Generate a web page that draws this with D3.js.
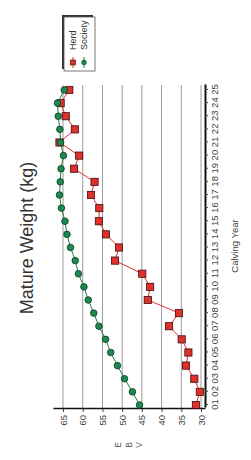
<!DOCTYPE html>
<html>
<head>
<meta charset="utf-8">
<script src="https://cdn.jsdelivr.net/npm/d3@7"></script>
<style>
  body { margin: 0; background: #fff; }
  svg { display: block; font-family: "Liberation Sans", Arial, sans-serif; }
</style>
</head>
<body>
<svg id="chart" width="251" height="460"></svg>
<script>
const years = d3.range(1, 26)
const herd = [31.3, 30.3, 31.7, 33.8, 33.2, 34.9, 38.1, 35.6, 43.5, 42.9, 44.9, 51.8, 50.8,
  54.1, 55.9, 55.8, 57.9, 57.0, 62.2, 60.9, 65.9, 62.0, 64.3, 65.6, 63.4]
const society = [45.6, 47.4, 49.4, 51.2, 52.9, 54.2, 55.9, 57.2, 58.6, 59.7, 61.1, 61.9, 63.1,
  64.0, 64.5, 65.4, 65.9, 65.7, 65.5, 64.9, 65.6, 65.8, 66.2, 66.4, 64.7]
const valueTicks = [30, 35, 40, 45, 50, 55, 60, 65]
const seriesNames = ['Herd', 'Society']

const herdColor = '#e0302c'
const societyColor = '#1b8a4f'

// the chart is drawn upright (460 x 251) and turned a quarter left
const svg = d3.select('#chart')
const g = svg.append('g').attr('transform', 'translate(0,460) rotate(-90)')

const x = d3.scaleLinear().domain([0.77, 25.38]).range([52, 375])
const y = d3.scaleLinear().domain([28.99, 67.54]).range([205, 53])

// Grid lines
g.append('g')
  .selectAll('line')
  .data(valueTicks)
  .join('line')
  .attr('x1', 52)
  .attr('x2', 375)
  .attr('y1', (d) => y(d))
  .attr('y2', (d) => y(d))
  .attr('stroke', '#9a9a9a')
  .attr('stroke-width', 1)

// Year axis
const xAxis = g.append('g')
  .attr('transform', 'translate(0,205)')
  .call(d3.axisBottom(x).tickValues(years).tickFormat(d3.format('02d')).tickSize(3).tickSizeOuter(0))
xAxis.select('.domain').attr('stroke', '#111').attr('stroke-width', 2)
xAxis.selectAll('.tick line').attr('stroke', '#444')
xAxis.selectAll('.tick text').attr('fill', '#444').style('font-size', '9.5px')

// Value axis
const yAxis = g.append('g')
  .attr('transform', 'translate(51,0)')
  .call(d3.axisLeft(y).tickValues(valueTicks).tickSize(3).tickSizeOuter(0))
yAxis.select('.domain').attr('stroke', '#111').attr('stroke-width', 1.5)
yAxis.selectAll('.tick line').attr('stroke', '#444')
yAxis.selectAll('.tick text').attr('fill', '#444').style('font-size', '9.5px')

// Axis titles
g.append('text')
  .attr('x', 222)
  .attr('y', 33)
  .attr('text-anchor', 'middle')
  .style('font-size', '18px')
  .attr('fill', '#333')
  .text('Mature Weight (kg)')

g.append('text')
  .attr('x', 214)
  .attr('y', 238)
  .attr('text-anchor', 'middle')
  .style('font-size', '9.5px')
  .attr('fill', '#444')
  .text('Calving Year')

const ebv = g.append('text')
  .attr('text-anchor', 'middle')
  .style('font-size', '8.5px')
  .attr('fill', '#555')
ebv.selectAll('tspan')
  .data(['E', 'B', 'V'])
  .join('tspan')
  .attr('x', 15)
  .attr('y', (d, i) => 121 + i * 10.5)
  .text((d) => d)

// Herd series
const line = d3.line().x((d, i) => x(years[i])).y((d) => y(d))

g.append('path')
  .datum(herd)
  .attr('d', line)
  .attr('fill', 'none')
  .attr('stroke', herdColor)
  .attr('stroke-width', 1)

g.append('g')
  .selectAll('rect')
  .data(herd)
  .join('rect')
  .attr('x', (d, i) => x(years[i]) - 3.6)
  .attr('y', (d) => y(d) - 3.6)
  .attr('width', 7.2)
  .attr('height', 7.2)
  .attr('fill', herdColor)
  .attr('stroke', '#3a1010')
  .attr('stroke-width', 0.8)

// Society series
g.append('path')
  .datum(society)
  .attr('d', line)
  .attr('fill', 'none')
  .attr('stroke', '#247a4c')
  .attr('stroke-width', 1)

g.append('g')
  .selectAll('circle')
  .data(society)
  .join('circle')
  .attr('cx', (d, i) => x(years[i]))
  .attr('cy', (d) => y(d))
  .attr('r', 3.3)
  .attr('fill', societyColor)
  .attr('stroke', '#0f3a22')
  .attr('stroke-width', 0.8)

// Legend
const legend = g.append('g').attr('transform', 'translate(389,64)')
legend.append('rect')
  .attr('x', 2)
  .attr('y', -2)
  .attr('width', 54)
  .attr('height', 31)
  .attr('fill', '#333')
legend.append('rect')
  .attr('width', 54)
  .attr('height', 31)
  .attr('fill', '#fff')
  .attr('stroke', '#555')
  .attr('stroke-width', 0.8)

const item = legend.selectAll('g.item')
  .data(seriesNames)
  .join('g')
  .attr('class', 'item')
  .attr('transform', (d, i) => `translate(0,${9 + i * 11})`)
item.append('line')
  .attr('x1', 3)
  .attr('x2', 14)
  .attr('stroke', (d, i) => (i === 0 ? herdColor : '#247a4c'))
item.filter((d, i) => i === 0)
  .append('rect')
  .attr('x', 6)
  .attr('y', -2.5)
  .attr('width', 5)
  .attr('height', 5)
  .attr('fill', herdColor)
  .attr('stroke', '#3a1010')
  .attr('stroke-width', 0.6)
item.filter((d, i) => i === 1)
  .append('circle')
  .attr('cx', 8.5)
  .attr('r', 2.4)
  .attr('fill', societyColor)
  .attr('stroke', '#0f3a22')
  .attr('stroke-width', 0.6)
item.append('text')
  .attr('x', 21)
  .attr('y', 3.2)
  .style('font-size', '9px')
  .attr('fill', '#333')
  .text((d) => d)
</script>
</body>
</html>
